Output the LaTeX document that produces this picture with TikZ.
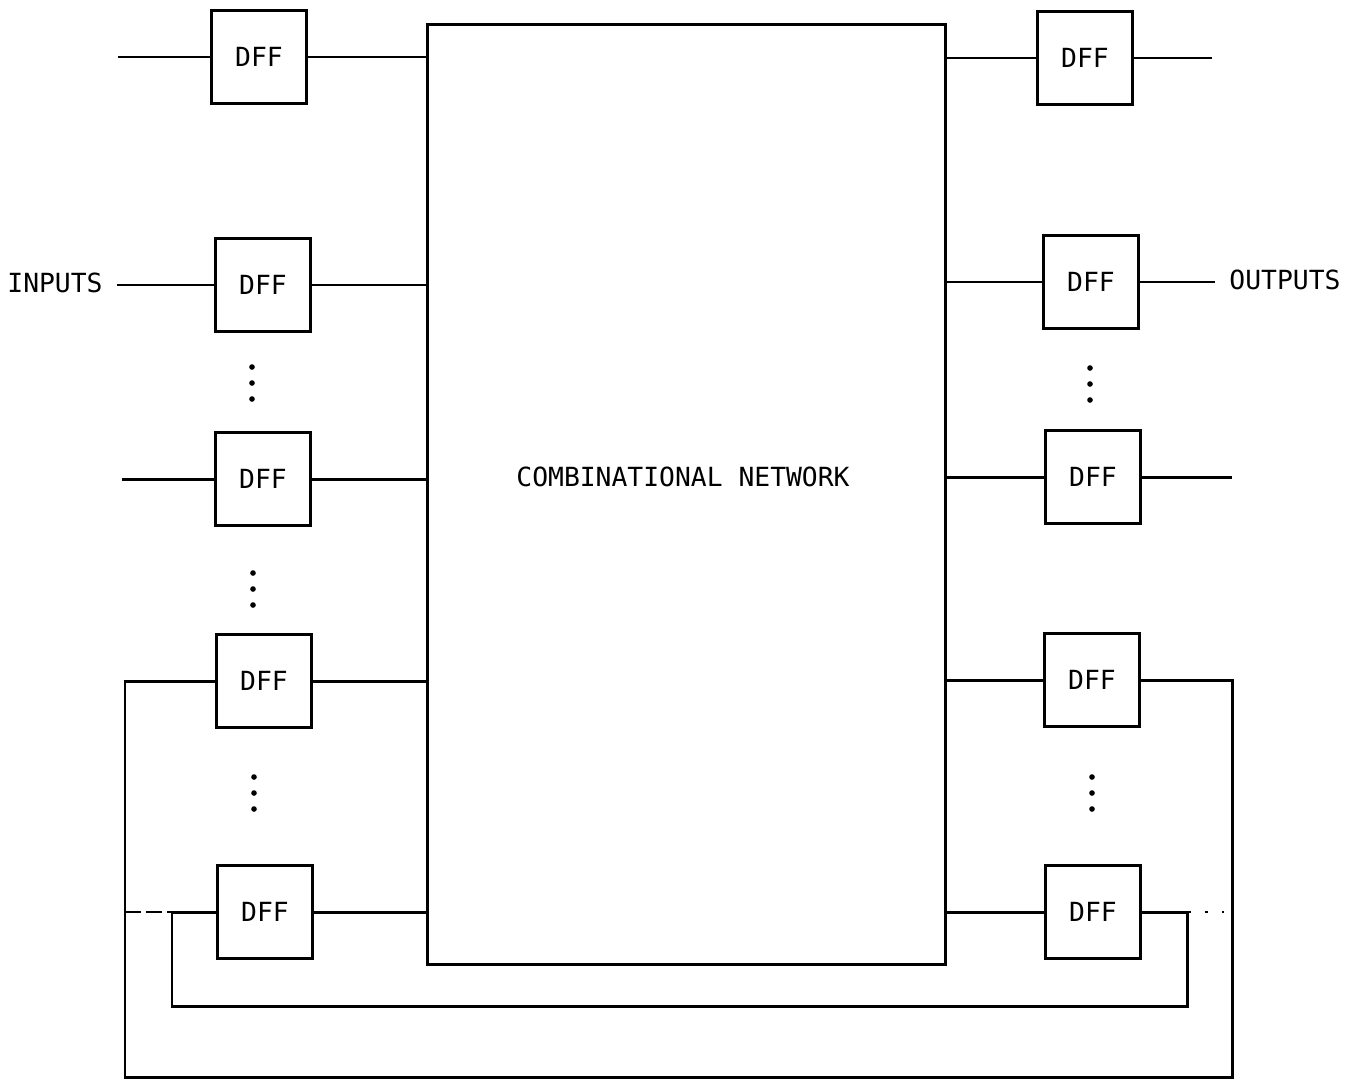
\documentclass[tikz,border=0pt]{standalone}
\usepackage{fontspec}
\setmainfont{DejaVu Sans Mono}
\usetikzlibrary{positioning}

\begin{document}
\begin{tikzpicture}[
    x=0.02cm, y=-0.02cm,
    line width=1.7pt,
    font=\fontsize{15}{17}\selectfont,
    dff/.style={draw, minimum width=1.9cm, minimum height=1.87cm, inner sep=0pt},
    port/.style={inner sep=0pt, outer xsep=8pt},
    stub/.style={line width=1.2pt, dash pattern=on 9pt off 3pt}
]
    \useasboundingbox (0,0) rectangle (1346,1079);

    % 1. Combinational Network (Centre)
    \node[draw, minimum width=10.38cm, minimum height=18.82cm] (comb) at (686.5,494.5) {};
    \node (comblbl) at (683,477) {COMBINATIONAL NETWORK};

    % 2. Input Flip-Flops (Left)
    \node[dff] (inA) at (259,57) {DFF};
    \node[dff] (inB) at (263,285) {DFF};
    \node[dff] (inC) at (263,479) {DFF};
    \node[dff] (inD) at (264,681) {DFF};
    \node[dff] (inE) at (265,912) {DFF};

    % 3. Output Flip-Flops (Right)
    \node[dff] (outA) at (1085,58) {DFF};
    \node[dff] (outB) at (1091,282) {DFF};
    \node[dff] (outC) at (1093,477) {DFF};
    \node[dff] (outD) at (1092,680) {DFF};
    \node[dff] (outE) at (1093,912) {DFF};

    % Port labels & free ends
    \node[port] (inputs) at (55,283) {INPUTS};
    \node[port] (outputs) at (1285,280) {OUTPUTS};
    \coordinate (inAend) at (118,57);
    \coordinate (inCend) at (122,479);
    \coordinate (outAend) at (1212,58);
    \coordinate (outCend) at (1232,477);
    \coordinate (outerL) at (125,1077);
    \coordinate (outerR) at (1232,1077);
    \coordinate (innerL) at (172,1006);
    \coordinate (innerR) at (1187,1006);
    \coordinate (innerLend) at (125,912);
    \coordinate (innerRend) at (1224,912);

    % Connections
    % 1. Inputs to left flip-flops
    \draw (inAend) -- (inA.west);
    \draw (inputs.east |- inB.west) -- (inB.west);
    \draw (inCend) -- (inC.west);

    % 2. Flip-flops to and from the network
    \foreach \n in {inA,inB,inC,inD,inE}
        \draw (\n.east) -- (\n.east -| comb.west);
    \foreach \n in {outA,outB,outC,outD,outE}
        \draw (\n.west -| comb.east) -- (\n.west);

    % 3. Right flip-flops to outputs
    \draw (outA.east) -- (outAend);
    \draw (outB.east) -- (outB.east -| outputs.west);
    \draw (outC.east) -- (outCend);

    % 4. Feedback loops
    \draw (outD.east) -| (outerR) -- (outerL) |- (inD.west);
    \draw (outE.east) -| (innerR) -- (innerL) |- (inE.west);
    \draw[stub] (innerLend) -- (innerL |- inE.west);
    \draw[line width=1.2pt, dash pattern=on 2pt off 8pt] (innerR |- outE.east) -- (innerRend);

    % Ellipsis dots
    \foreach \x/\y in {252/383, 253/589, 254/793, 1090/384, 1092/793}
        \foreach \k in {-16,0,16}
            \fill (\x,\y+\k) circle (1.6pt);

\end{tikzpicture}
\end{document}
